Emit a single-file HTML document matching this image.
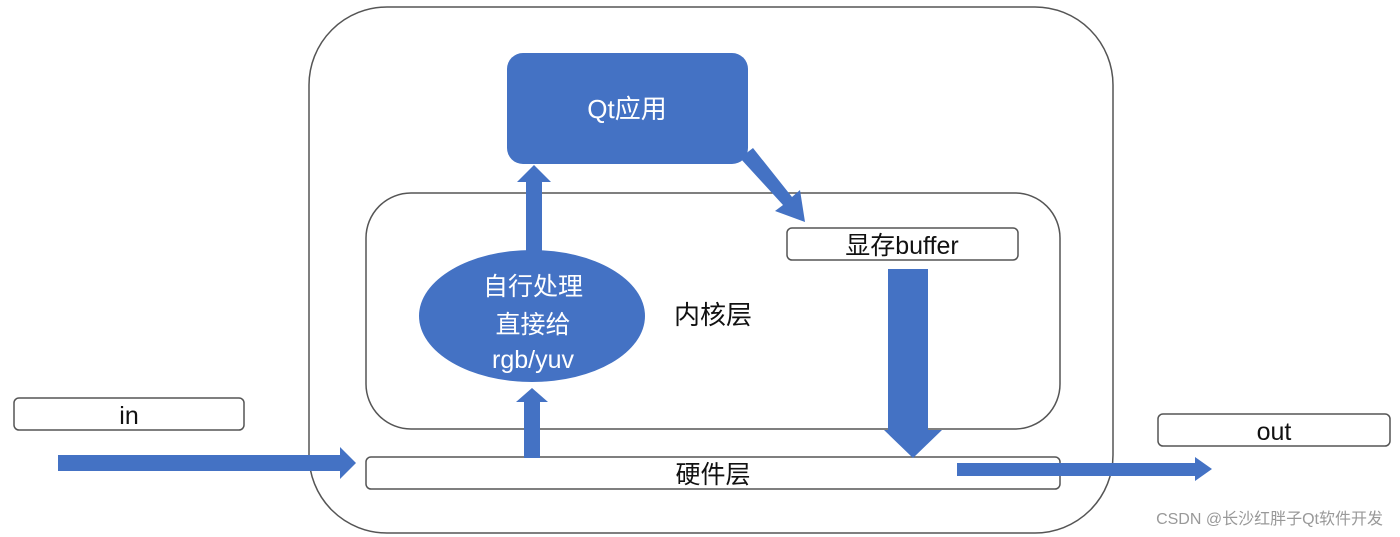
<!DOCTYPE html>
<html><head><meta charset="utf-8"><style>
html,body{margin:0;padding:0;background:#fff;}
svg{display:block;}
text{font-family:"Liberation Sans","Noto Sans CJK SC",sans-serif;}
</style></head><body>
<svg width="1400" height="537" viewBox="0 0 1400 537" xmlns="http://www.w3.org/2000/svg">
<rect x="309" y="7" width="804" height="526" rx="78" fill="none" stroke="#555" stroke-width="1.5"/>
<rect x="366" y="193" width="694" height="236" rx="45" fill="none" stroke="#555" stroke-width="1.5"/>
<rect x="507" y="53" width="241" height="111" rx="16" fill="#4472c4"/>
<text x="627" y="118" font-size="26" fill="#fff" text-anchor="middle">Qt应用</text>
<rect x="787" y="228" width="231" height="32" rx="5" fill="#fff" stroke="#555" stroke-width="1.5"/>
<text x="902" y="254" font-size="25" fill="#111" text-anchor="middle">显存buffer</text>
<rect x="1158" y="414" width="232" height="32" rx="5" fill="#fff" stroke="#555" stroke-width="1.5"/>
<text x="1274" y="440" font-size="25" fill="#111" text-anchor="middle">out</text>
<rect x="14" y="398" width="230" height="32" rx="5" fill="#fff" stroke="#555" stroke-width="1.5"/>
<text x="129" y="424" font-size="25" fill="#111" text-anchor="middle">in</text>
<rect x="366" y="457" width="694" height="32" rx="5" fill="#fff" stroke="#555" stroke-width="1.5"/>
<text x="713" y="483" font-size="25" fill="#111" text-anchor="middle">硬件层</text>
<text x="713" y="324" font-size="26" fill="#111" text-anchor="middle">内核层</text>
<ellipse cx="532" cy="316" rx="113" ry="66" fill="#4472c4"/>
<text x="533" y="295" font-size="25" fill="#fff" text-anchor="middle">自行处理</text>
<text x="533" y="333" font-size="25" fill="#fff" text-anchor="middle">直接给</text>
<text x="533" y="368" font-size="25" fill="#fff" text-anchor="middle">rgb/yuv</text>
<!-- arrows -->
<polygon points="58,455 340,455 340,447 356,463 340,479 340,471 58,471" fill="#4472c4"/>
<polygon points="524,458 524,402 516,402 532,388 548,402 540,402 540,458" fill="#4472c4"/>
<polygon points="526,254 526,182 517,182 534,165 551,182 542,182 542,254" fill="#4472c4"/>
<polygon points="740,158 753,148 792,197 800,190 805,222 775,211 783,205" fill="#4472c4"/>
<polygon points="888,269 928,269 928,430 942,430 913,458 884,430 888,430" fill="#4472c4"/>
<polygon points="957,463 1195,463 1195,457 1212,469 1195,481 1195,476 957,476" fill="#4472c4"/>
<text x="1383" y="524" font-size="16" fill="#999" text-anchor="end">CSDN @长沙红胖子Qt软件开发</text>
</svg>
</body></html>
